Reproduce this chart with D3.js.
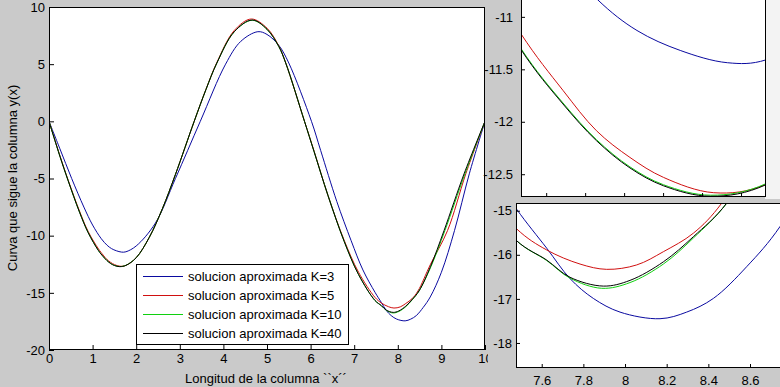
<!DOCTYPE html>
<html>
<head>
<meta charset="utf-8">
<script src="https://cdn.jsdelivr.net/npm/d3@7/dist/d3.min.js"></script>
<style>
  body { margin: 0; background: #cacaca; }
  text { font-family: 'Liberation Sans', Arial, sans-serif; font-size: 13px; fill: #000; }
</style>
</head>
<body>
<div id="chart"></div>
<script>
// series, [x, y]
const serieK3 = [[0,0],[0.25,-2.4],[0.52,-5.0],[0.8,-7.5],[1.0,-9.07],[1.2,-10.27],[1.333,-10.84],[1.433,-11.13],[1.544,-11.32],
  [1.665,-11.437],[1.764,-11.41],[2.0,-10.9],[2.44,-8.9],[2.9,-5.0],[3.47,0],[4.05,5.0],[4.4,7.0],[4.79,7.84],[5.0,7.6],
  [5.27,6.65],[5.5,5.1],[6.02,0],[6.23,-2.54],[6.6,-7.0],[6.93,-10.44],[7.2,-13.0],[7.477,-14.95],[7.624,-15.85],[7.736,-16.54],
  [7.848,-16.99],[7.976,-17.3],[8.168,-17.45],[8.296,-17.3],[8.424,-16.99],[8.584,-16.27],[8.744,-15.36],[9.0,-13.2],
  [9.3,-9.56],[9.64,-4.59],[10,0]]
const serieK5 = [[0,0],[0.25,-3.0],[0.44,-5.15],[0.7,-7.85],[0.9,-9.65],[1.135,-11.16],[1.243,-11.7],[1.329,-12.085],[1.415,-12.34],
  [1.501,-12.53],[1.63,-12.676],[1.764,-12.596],[2.0,-11.93],[2.3,-10.15],[2.6,-7.65],[2.9,-4.65],[3.33,0],[3.6,2.8],[3.85,5.15],
  [4.25,7.95],[4.64,8.95],[5.0,8.15],[5.27,6.6],[5.43,5.1],[5.86,0],[6.08,-2.6],[6.4,-6.5],[6.77,-10.4],[7.1,-13.2],[7.477,-15.4],
  [7.624,-15.89],[7.784,-16.21],[7.912,-16.33],[8.056,-16.23],[8.184,-15.93],[8.328,-15.51],[8.464,-14.83],[8.75,-12.5],
  [9.14,-9.56],[9.56,-4.59],[10,0]]
const serieK10 = [[0,0],[0.25,-3.05],[0.44,-5.2],[0.7,-7.94],[0.9,-9.74],[1.135,-11.3],[1.243,-11.82],[1.329,-12.17],[1.415,-12.43],
  [1.501,-12.6],[1.622,-12.7],[1.764,-12.59],[2.0,-11.93],[2.3,-10.15],[2.6,-7.65],[2.9,-4.65],[3.33,0],[3.6,2.78],[3.85,5.1],
  [4.25,7.84],[4.66,8.84],[5.0,8.05],[5.27,6.55],[5.43,5.1],[5.86,0],[6.08,-2.65],[6.4,-6.5],[6.77,-10.5],[7.1,-13.4],[7.477,-15.67],
  [7.624,-16.13],[7.736,-16.53],[7.888,-16.76],[8.024,-16.63],[8.184,-16.21],[8.328,-15.62],[8.488,-14.83],[8.75,-12.8],
  [9.08,-9.56],[9.54,-4.59],[10,0]]
const serieK40 = [[0,0],[0.25,-3.05],[0.44,-5.2],[0.7,-7.95],[0.9,-9.75],[1.135,-11.31],[1.243,-11.83],[1.329,-12.18],[1.415,-12.44],
  [1.501,-12.61],[1.622,-12.71],[1.764,-12.6],[2.0,-11.93],[2.3,-10.15],[2.6,-7.65],[2.9,-4.65],[3.33,0],[3.6,2.78],[3.85,5.1],
  [4.25,7.84],[4.66,8.86],[5.0,8.05],[5.27,6.55],[5.43,5.1],[5.86,0],[6.08,-2.65],[6.4,-6.5],[6.77,-10.5],[7.1,-13.4],[7.477,-15.67],
  [7.624,-16.12],[7.736,-16.51],[7.896,-16.71],[8.024,-16.58],[8.184,-16.16],[8.328,-15.59],[8.488,-14.83],[8.75,-12.7],
  [9.06,-9.56],[9.52,-4.59],[10,0]]

const legendLabels = ['solucion aproximada K=3', 'solucion aproximada K=5', 'solucion aproximada K=10', 'solucion aproximada K=40']
const colors = ['#0a0aa0', '#d01010', '#10d010', '#000000']

const mainXTicks = [0, 1, 2, 3, 4, 5, 6, 7, 8, 9, 10]
const mainYTicks = [10, 5, 0, -5, -10, -15, -20]
const zoom1XTicks = [1.2, 1.3, 1.4, 1.5, 1.6, 1.7]
const zoom1YTicks = [-11, -11.5, -12, -12.5]
const zoom2XTicks = [7.6, 7.8, 8, 8.2, 8.4, 8.6]
const zoom2YTicks = [-15, -16, -17, -18]

const series = [serieK3, serieK5, serieK10, serieK40]

var W = 780, H = 387
var svg = d3.select('#chart').append('svg')
  .attr('width', W)
  .attr('height', H)

svg.append('rect').attr('width', W).attr('height', H).attr('fill', '#cacaca')

let clipId = 0
// one set of axes: box in pixels, domains, ticks
let drawPanel = (box, xDom, yDom, xTicks, yTicks, opt) => {
  let x = d3.scaleLinear().domain(xDom).range([box.left, box.right])
  let y = d3.scaleLinear().domain(yDom).range([box.bottom, box.top])
  let g = svg.append('g')
  let id = 'clip' + (clipId++)

  g.append('clipPath').attr('id', id)
    .append('rect')
    .attr('x', box.left).attr('y', box.top)
    .attr('width', box.right - box.left).attr('height', box.bottom - box.top)

  g.append('rect')
    .attr('x', box.left).attr('y', box.top)
    .attr('width', box.right - box.left).attr('height', box.bottom - box.top)
    .attr('fill', '#fff')

  let line = d3.line()
    .x(d => x(d[0]))
    .y(d => y(d[1]))
    .curve(d3.curveCatmullRom.alpha(0.5))

  let lines = g.append('g').attr('clip-path', 'url(#' + id + ')')
  series.forEach((s, i) => {
    lines.append('path')
      .attr('d', line(s))
      .attr('fill', 'none')
      .attr('stroke', colors[i])
      .attr('stroke-width', 1)
  })

  // ticks point inward like matlab
  let xAxis = d3.axisBottom(x).tickValues(xTicks).tickFormat(d => String(d))
    .tickSizeInner(-opt.tick).tickSizeOuter(0).tickPadding(opt.xPad)
  let yAxis = d3.axisLeft(y).tickValues(yTicks).tickFormat(d => String(d))
    .tickSizeInner(-opt.tick).tickSizeOuter(0).tickPadding(opt.yPad)

  let xa = g.append('g')
    .attr('transform', 'translate(0,' + box.bottom + ')')
    .call(xAxis)
  let ya = g.append('g')
    .attr('transform', 'translate(' + box.left + ',0)')
    .call(yAxis)

  ;[xa, ya].forEach(a => {
    a.select('.domain').remove()
    a.selectAll('line').attr('stroke', '#000')
    a.selectAll('text')
      .style('font-family', "'Liberation Sans', Arial, sans-serif")
      .style('font-size', '13px')
      .attr('fill', '#000')
  })
  if (!opt.xLabels) xa.selectAll('text').remove()

  g.append('rect')
    .attr('x', box.left + 0.5).attr('y', box.top + 0.5)
    .attr('width', box.right - box.left - 1).attr('height', box.bottom - box.top - 1)
    .attr('fill', 'none')
    .attr('stroke', '#000')
    .attr('stroke-width', 1)

  return { x: x, y: y, g: g }
}

// main plot
let main = drawPanel({ left: 49, right: 485, top: 7, bottom: 350 }, [0, 10], [-20, 10], mainXTicks, mainYTicks,
  { xLabels: true, tick: 5, xPad: 4, yPad: 4 })

// right side ticks of the main box
main.g.selectAll('.rtick')
  .data([5, -5])
  .enter().append('line')
  .attr('x1', 484).attr('x2', 490)
  .attr('y1', d => Math.round(main.y(d)) + 0.5)
  .attr('y2', d => Math.round(main.y(d)) + 0.5)
  .attr('stroke', '#000')

svg.append('text')
  .attr('x', 266).attr('y', 383)
  .attr('text-anchor', 'middle')
  .text('Longitud de la columna ``x´´')

svg.append('text')
  .attr('transform', 'translate(17,178) rotate(-90)')
  .attr('text-anchor', 'middle')
  .text('Curva que sigue la columna y(x)')

// legend
let leg = svg.append('g')
leg.append('rect')
  .attr('x', 136.5).attr('y', 264.5)
  .attr('width', 212).attr('height', 80)
  .attr('fill', '#fff')
  .attr('stroke', '#000')
legendLabels.forEach((l, i) => {
  let yy = 276 + i * 19
  leg.append('line')
    .attr('x1', 143).attr('x2', 183)
    .attr('y1', yy + 0.5).attr('y2', yy + 0.5)
    .attr('stroke', colors[i])
  leg.append('text')
    .attr('x', 188).attr('y', yy + 5)
    .text(l)
})

// zoomed panels on the right
svg.append('rect').attr('x', 485).attr('y', 0).attr('width', 295).attr('height', 200).attr('fill', '#cacaca')
svg.append('rect').attr('x', 765).attr('y', 0).attr('width', 15).attr('height', 199).attr('fill', '#f3f3f3')

drawPanel({ left: 521, right: 766, top: -10, bottom: 197 }, [1.1354, 1.7641], [-12.717, -10.744], zoom1XTicks, zoom1YTicks,
  { xLabels: false, tick: 4, xPad: 4, yPad: 8 })

svg.append('rect').attr('x', 488).attr('y', 199).attr('width', 292).attr('height', 188).attr('fill', '#cacaca')
drawPanel({ left: 516, right: 800, top: 203, bottom: 368 }, [7.4766, 8.840], [-18.568, -14.825], zoom2XTicks, zoom2YTicks,
  { xLabels: true, tick: 4, xPad: 8, yPad: 4 })
</script>
</body>
</html>
